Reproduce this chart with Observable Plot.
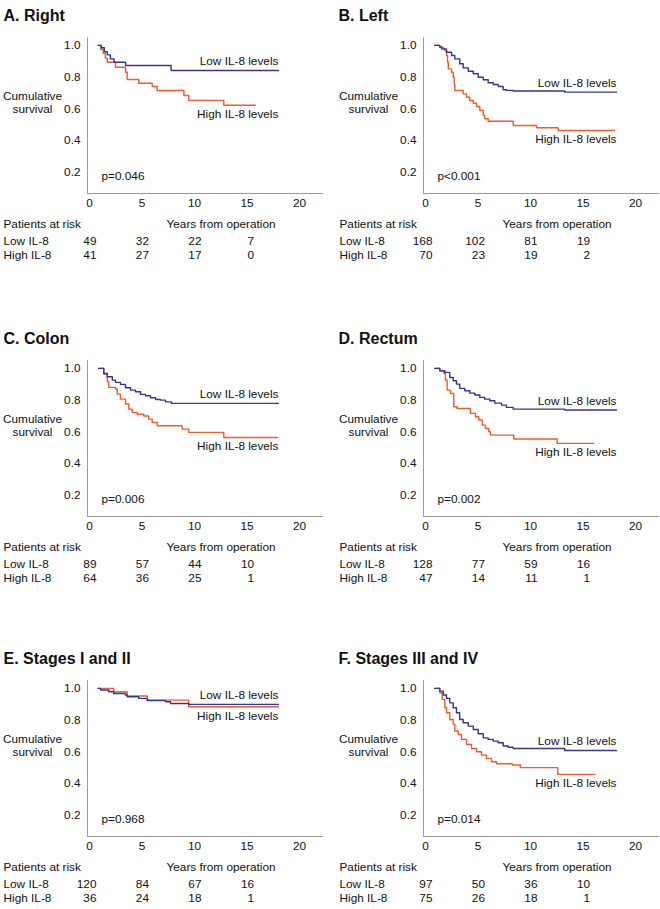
<!DOCTYPE html>
<html>
<head>
<meta charset="utf-8">
<script src="https://cdn.jsdelivr.net/npm/d3@7"></script>
<script src="https://cdn.jsdelivr.net/npm/@observablehq/plot@0.6"></script>
<style>
  html, body { margin: 0; background: #fff; overflow: hidden; }
  #fig { position: relative; width: 660px; height: 909px; background: #fff; overflow: hidden; }
  .panel { position: absolute; width: 330px; height: 270px; }
  .panel svg { max-width: none !important; }
</style>
</head>
<body>
<div id="fig"></div>
<script>
// ---------- data ----------
const titles = ["A. Right", "B. Left", "C. Colon", "D. Rectum", "E. Stages I and II", "F. Stages III and IV"];
const pValues = ["p=0.046", "p<0.001", "p=0.006", "p=0.002", "p=0.968", "p=0.014"];
const xTicks = [0, 5, 10, 15, 20];
const yTicks = [0.2, 0.4, 0.6, 0.8, 1.0];
const riskTimes = [0, 5, 10, 15];
const seriesNames = ["Low IL-8 levels", "High IL-8 levels"];
const riskRowNames = ["Low IL-8", "High IL-8"];

// [years, cumulative survival] step points
const rightLow = [[0.83,1.0],[1.12,0.985],[1.41,0.96],[1.70,0.94],[1.99,0.915],[2.33,0.894],[3.45,0.873],[7.77,0.842],[17.99,0.842]];
const rightHigh = [[0.83,1.0],[1.07,0.975],[1.31,0.95],[1.51,0.92],[1.69,0.894],[2.48,0.862],[3.43,0.831],[3.59,0.785],[4.69,0.761],[5.97,0.741],[6.45,0.715],[8.99,0.684],[9.46,0.653],[12.79,0.622],[15.79,0.622]];

const leftLow = [[0.87,1.0],[1.36,0.99],[1.53,0.978],[2.00,0.957],[2.48,0.936],[2.79,0.915],[3.26,0.884],[3.59,0.858],[4.07,0.837],[4.55,0.821],[5.02,0.799],[5.50,0.783],[5.97,0.764],[6.45,0.753],[6.93,0.741],[7.40,0.720],[7.71,0.716],[8.35,0.712],[13.26,0.705],[18.19,0.705]];
const leftHigh = [[0.87,1.0],[1.36,0.989],[1.69,0.978],[1.84,0.968],[2.00,0.936],[2.10,0.894],[2.17,0.852],[2.48,0.831],[2.64,0.799],[2.73,0.757],[2.79,0.715],[3.59,0.694],[3.91,0.673],[4.22,0.652],[4.55,0.635],[4.86,0.614],[5.17,0.589],[5.50,0.558],[5.64,0.537],[5.97,0.521],[8.35,0.494],[10.57,0.480],[12.64,0.463],[17.99,0.463]];

const colonLow = [[0.87,1.0],[1.36,0.968],[1.69,0.947],[2.17,0.926],[2.48,0.912],[2.95,0.899],[3.43,0.878],[3.91,0.863],[4.38,0.853],[4.86,0.836],[5.33,0.827],[5.81,0.815],[6.29,0.804],[6.76,0.800],[7.24,0.789],[7.81,0.779],[17.99,0.779]];
const colonHigh = [[0.87,1.0],[1.36,0.964],[1.69,0.916],[1.84,0.88],[2.48,0.87],[2.64,0.838],[2.95,0.806],[3.43,0.775],[3.74,0.743],[4.07,0.722],[4.55,0.711],[5.17,0.70],[5.64,0.68],[5.97,0.659],[6.45,0.638],[8.83,0.617],[9.46,0.596],[12.79,0.564],[17.92,0.564]];

const rectumLow = [[0.87,1.0],[1.36,0.985],[1.84,0.975],[2.31,0.943],[2.64,0.922],[2.95,0.901],[3.26,0.874],[3.74,0.859],[4.22,0.844],[4.69,0.832],[5.17,0.817],[5.64,0.806],[6.12,0.796],[6.60,0.781],[7.24,0.768],[7.71,0.754],[8.35,0.743],[13.26,0.737],[18.19,0.737]];
const rectumHigh = [[0.87,1.0],[1.36,0.985],[1.75,0.968],[1.90,0.926],[2.06,0.863],[2.38,0.842],[2.69,0.758],[3.01,0.747],[4.28,0.716],[4.76,0.695],[5.08,0.674],[5.40,0.642],[5.71,0.621],[6.03,0.60],[6.19,0.579],[8.41,0.554],[12.54,0.527],[16.02,0.527]];

const earlyLow = [[0.83,1.0],[1.05,0.99],[1.84,0.979],[2.31,0.968],[3.43,0.958],[3.59,0.947],[4.69,0.937],[5.50,0.924],[7.24,0.916],[7.71,0.905],[9.45,0.899],[17.99,0.899]];
const earlyHigh = [[0.83,1.0],[2.31,0.979],[3.59,0.952],[5.50,0.926],[9.45,0.884],[17.99,0.884]];

const lateLow = [[0.87,1.0],[1.36,0.983],[1.69,0.958],[2.00,0.937],[2.31,0.909],[2.64,0.878],[2.95,0.846],[3.26,0.804],[3.59,0.783],[4.07,0.762],[4.55,0.741],[5.02,0.714],[5.50,0.688],[5.97,0.678],[6.45,0.667],[6.93,0.657],[7.40,0.636],[7.88,0.629],[8.35,0.621],[13.26,0.608],[18.19,0.608]];
const lateHigh = [[0.87,1.0],[1.36,0.973],[1.59,0.931],[1.84,0.878],[2.00,0.846],[2.31,0.804],[2.64,0.773],[2.79,0.731],[3.11,0.709],[3.43,0.678],[3.91,0.646],[4.38,0.621],[4.86,0.60],[5.33,0.579],[5.81,0.558],[6.29,0.537],[6.76,0.524],[8.26,0.516],[9.03,0.50],[12.59,0.457],[16.14,0.457]];

// patients at risk at 0, 5, 10, 15 years
const riskLow  = [[49,32,22,7],[168,102,81,19],[89,57,44,10],[128,77,59,16],[120,84,67,16],[97,50,36,10]];
const riskHigh = [[41,27,17,0],[70,23,19,2],[64,36,25,1],[47,14,11,1],[36,24,18,1],[75,26,18,1]];

const lowCurves = [rightLow, leftLow, colonLow, rectumLow, earlyLow, lateLow];
const highCurves = [rightHigh, leftHigh, colonHigh, rectumHigh, earlyHigh, lateHigh];

// ---------- drawing ----------
const FONT = "'Liberation Sans', Arial, Helvetica, sans-serif";
const LOW_COLOR = "#35368f";
const HIGH_COLOR = "#ee5d2b";
const AXIS_COLOR = "#9a9a9a";
const TXT = "#111";
const FS = 11.8;

const rowTops = [0, 323, 643];
const colLefts = [0, 336];
const fig = document.getElementById("fig");

titles.forEach((title, i) => {
  const low = lowCurves[i], high = highCurves[i];
  const xEnd = Math.max(low[low.length - 1][0], high[high.length - 1][0]);
  const chart = Plot.plot({
    width: 330,
    height: 270,
    marginLeft: 87,
    marginRight: 8,
    marginTop: 37,
    marginBottom: 77,
    style: {fontFamily: FONT, fontSize: FS + "px", color: TXT, background: "transparent", overflow: "visible", maxWidth: "none"},
    x: {domain: [-0.19, 22.19]},
    y: {domain: [0.065, 1.05]},
    marks: [
      Plot.frame({anchor: "left", stroke: AXIS_COLOR, strokeWidth: 1}),
      Plot.frame({anchor: "bottom", stroke: AXIS_COLOR, strokeWidth: 1}),
      Plot.axisX(xTicks, {tickSize: 0, tickPadding: 5, fontSize: FS, label: null}),
      Plot.axisY(yTicks, {tickSize: 0, tickPadding: 7, fontSize: FS, label: null, tickFormat: d => d.toFixed(1)}),
      Plot.line(high, {x: d => d[0], y: d => d[1], curve: "step-after", stroke: HIGH_COLOR, strokeWidth: 1.4}),
      Plot.line(low, {x: d => d[0], y: d => d[1], curve: "step-after", stroke: LOW_COLOR, strokeWidth: 1.4}),
      Plot.text([low[low.length - 1]], {x: () => xEnd, y: d => d[1], text: () => seriesNames[0], textAnchor: "end", dy: -9, fontSize: FS}),
      Plot.text([high[high.length - 1]], {x: () => xEnd, y: d => d[1], text: () => seriesNames[1], textAnchor: "end", dy: 9, fontSize: FS}),
      Plot.text([pValues[i]], {text: d => d, frameAnchor: "bottom-left", textAnchor: "start", dx: 14, dy: -14, fontSize: FS}),
      Plot.text(["Cumulative\nsurvival"], {text: d => d, frameAnchor: "left", textAnchor: "middle", dx: -55, dy: -13.5, lineHeight: 1.1, fontSize: FS}),
      Plot.text([title], {text: d => d, frameAnchor: "top-left", textAnchor: "start", dx: i % 2 ? -85 : -84, dy: -28, fontSize: 16, fontWeight: "bold", fill: "#111"}),
      Plot.text(["Patients at risk"], {text: d => d, frameAnchor: "bottom-left", textAnchor: "start", dx: -84, dy: 34.5, fontSize: FS}),
      Plot.text(["Years from operation"], {text: d => d, frameAnchor: "bottom-left", textAnchor: "start", dx: 79, dy: 34.5, fontSize: FS}),
      Plot.text([riskRowNames[0]], {text: d => d, frameAnchor: "bottom-left", textAnchor: "start", dx: -84, dy: 51, fontSize: FS}),
      Plot.text([riskRowNames[1]], {text: d => d, frameAnchor: "bottom-left", textAnchor: "start", dx: -84, dy: 65.5, fontSize: FS}),
      Plot.text(riskLow[i], {x: (d, j) => riskTimes[j], text: d => String(d), frameAnchor: "bottom", textAnchor: "end", dx: 7, dy: 51, fontSize: FS}),
      Plot.text(riskHigh[i], {x: (d, j) => riskTimes[j], text: d => String(d), frameAnchor: "bottom", textAnchor: "end", dx: 7, dy: 65.5, fontSize: FS})
    ]
  });
  const div = document.createElement("div");
  div.className = "panel";
  div.style.left = colLefts[i % 2] + "px";
  div.style.top = rowTops[Math.floor(i / 2)] + "px";
  div.append(chart);
  fig.append(div);
});
</script>
</body>
</html>
